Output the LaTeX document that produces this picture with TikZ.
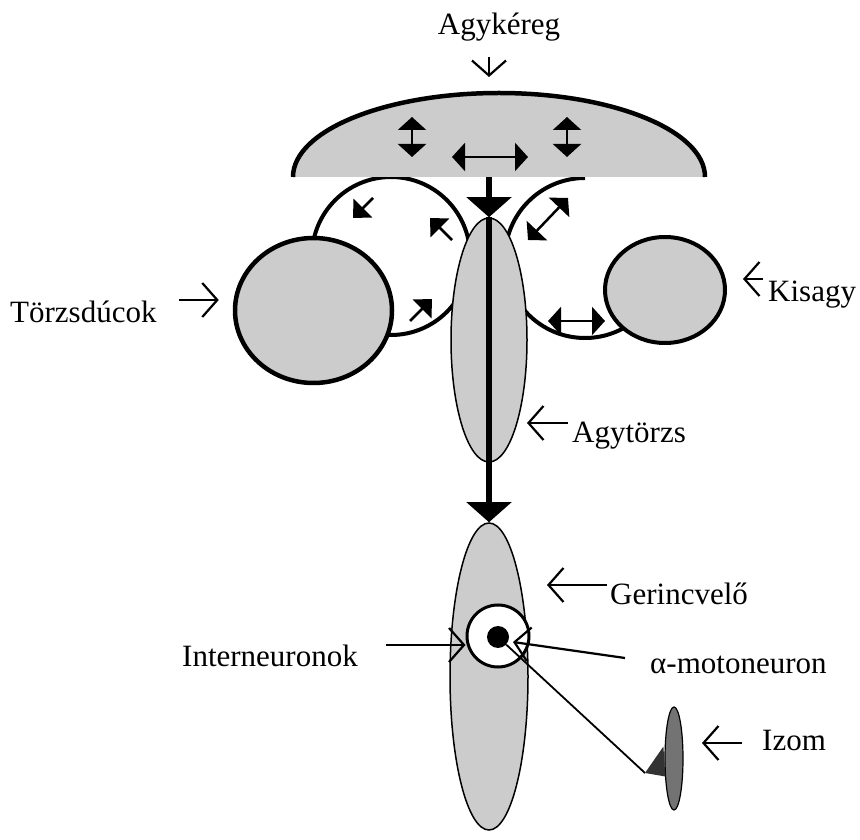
\documentclass[tikz,border=0pt]{standalone}
\usepackage{fontspec}
\setmainfont{Liberation Serif}
\usetikzlibrary{arrows.meta,shapes.geometric}

\begin{document}
\begin{tikzpicture}[
        x=1pt, y=1pt,
        every node/.style={font=\fontsize{31}{36}\selectfont},
        lbl/.style={inner sep=0pt, anchor=base west},
        organ/.style={ellipse, draw, inner sep=0pt, fill=black!20},
        heavy/.style={line width=4.5pt},
        loopline/.style={line width=4pt},
        pointer/.style={-{Straight Barb[length=15pt,width=34pt]}, line width=2.2pt},
        mini/.style={line width=2.5pt, -{Triangle[length=14pt,width=26pt]}},
        twin/.style={line width=2.5pt, {Triangle[length=13pt,width=28pt]}-{Triangle[length=13pt,width=28pt]}},
        bigtip/.style={line width=5.5pt, -{Triangle[length=20pt,width=44pt]}}
    ]
    \useasboundingbox (0,0) rectangle (860,839);

    % loops behind the nuclei
    \node[circle, draw, loopline, inner sep=0pt, minimum size=158pt] (loopL) at (391,583) {};
    \coordinate (loopRtop) at (585,661);
    \draw[loopline] (loopRtop) arc[start angle=90, end angle=305, radius=80];

    % cortex
    \coordinate (ctxL) at (293,662);
    \coordinate (ctxB) at (489,662);
    \fill[black!20] (ctxL) arc[start angle=180, end angle=0, x radius=206, y radius=84] -- cycle;
    \draw[heavy] (ctxL) arc[start angle=180, end angle=0, x radius=206, y radius=84];

    % nuclei, stem, cord
    \node[organ, heavy, minimum width=157pt, minimum height=145pt] (basal) at (313.5,528.5) {};
    \node[organ, loopline, minimum width=120pt, minimum height=106pt] (cereb) at (665,549) {};
    \node[organ, line width=1.5pt, minimum width=76pt, minimum height=244pt] (stem) at (489,499) {};
    \node[organ, line width=1.5pt, minimum width=78pt, minimum height=307pt] (cord) at (489,162.5) {};
    \node[circle, draw, fill=white, line width=3pt, minimum size=62pt, inner sep=0pt] (inner) at (498,203) {};
    \node[circle, fill=black, minimum size=22pt, inner sep=0pt] (soma) at (498,202) {};

    % descending pathway
    \draw[bigtip] (ctxB) -- (stem.north);
    \draw[bigtip] (stem.north) -- (cord.north);

    % small arrows
    \draw[twin] (412,682) -- (412,722);
    \draw[twin] (567,682) -- (567,722);
    \draw[twin] (452,682) -- (528,682);
    \draw[mini] (373,641) -- (353,621);
    \draw[mini] (452,599) -- (430,621);
    \draw[mini] (410,518) -- (432,540);
    \draw[twin] (528,599) -- (568,641);
    \draw[twin] (548,518) -- (605,518);

    % motor axon to muscle
    \coordinate (plate) at (645,66);
    \draw[line width=1.8pt] (soma) -- (plate);
    \node[organ, fill=black!55, line width=1.2pt, minimum width=18pt, minimum height=103pt] (muscle) at (674,80.5) {};
    \fill[black!80] (plate) -- ([xshift=-1pt,yshift=12pt]muscle.west) -- ([xshift=1pt,yshift=-18pt]muscle.west) -- cycle;

    % labels
    \node[lbl, anchor=base] (lctx) at (499,804) {Agykéreg};
    \draw[pointer] ([xshift=-10pt,yshift=-22pt]lctx.base) -- ([xshift=-10pt,yshift=-42pt]lctx.base);
    \node[lbl] (lbas) at (10,516) {Törzsdúcok};
    \draw[pointer] ([xshift=22pt,yshift=23pt]lbas.base east) -- ([xshift=62pt,yshift=23pt]lbas.base east);
    \node[lbl] (lcer) at (768,537) {Kisagy};
    \draw[pointer] ([xshift=-5pt,yshift=23pt]lcer.base west) -- ([xshift=-25pt,yshift=23pt]lcer.base west);
    \node[lbl] (lstem) at (572,396) {Agytörzs};
    \draw[pointer] ([xshift=-4pt,yshift=20pt]lstem.base west) -- ([xshift=-45pt,yshift=20pt]lstem.base west);
    \node[lbl] (lcord) at (610,234) {Gerincvelő};
    \draw[pointer] ([xshift=-3pt,yshift=20pt]lcord.base west) -- ([xshift=-63pt,yshift=20pt]lcord.base west);
    \node[lbl] (linter) at (182,172) {Interneuronok};
    \draw[pointer] ([xshift=-80pt,yshift=-9pt]inner.west) -- ([yshift=-9pt]inner.west);
    \node[lbl] (lmoto) at (650,166) {α-motoneuron};
    \draw[pointer] ([xshift=-25pt,yshift=15pt]lmoto.base west) -- ([xshift=15pt,yshift=-5pt]soma.center);
    \node[lbl] (lmus) at (762,89) {Izom};
    \draw[pointer] ([xshift=-20pt,yshift=7pt]lmus.base west) -- ([xshift=-60pt,yshift=7pt]lmus.base west);
\end{tikzpicture}
\end{document}
